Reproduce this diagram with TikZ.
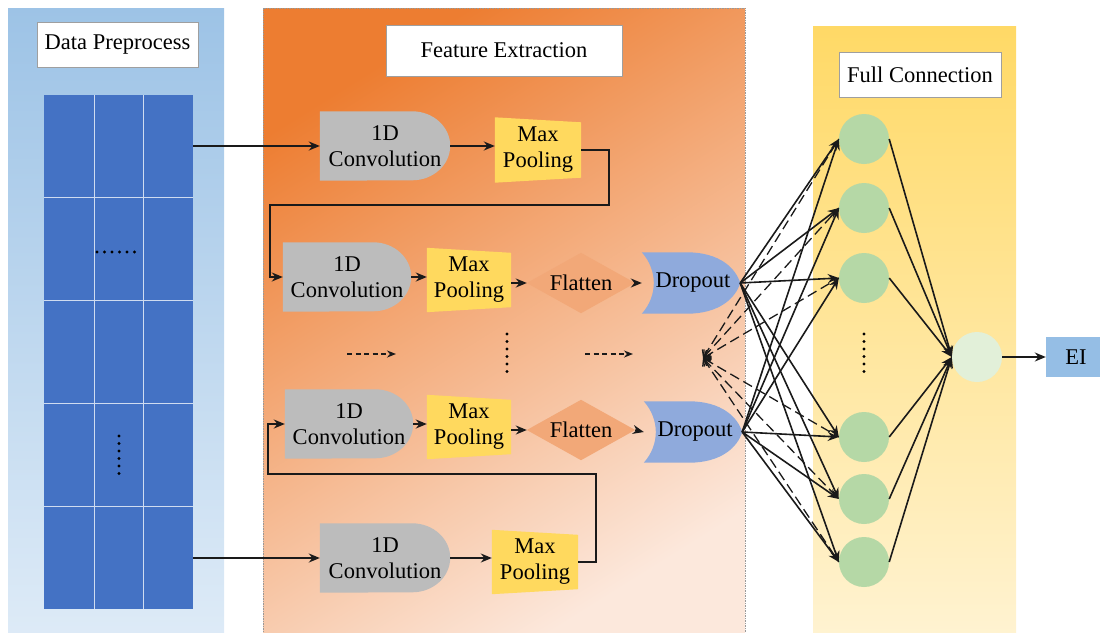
\documentclass[tikz,border=0pt]{standalone}
\usepackage{fontspec}
\setmainfont{Liberation Serif}
\usetikzlibrary{arrows.meta,calc}
\pgfdeclarelayer{panel}
\pgfdeclarelayer{shapes}
\pgfsetlayers{panel,shapes,main}
\definecolor{dpTop}{HTML}{9DC3E6}
\definecolor{dpBot}{HTML}{DEEBF7}
\definecolor{gridBlue}{HTML}{4472C4}
\definecolor{feTop}{HTML}{ED7D31}
\definecolor{feMid}{HTML}{F5B995}
\definecolor{feBot}{HTML}{FCE8DC}
\definecolor{fcTop}{HTML}{FFD966}
\definecolor{fcBot}{HTML}{FFF3D2}
\definecolor{convGray}{HTML}{BCBCBC}
\definecolor{poolYel}{HTML}{FFD95E}
\definecolor{flatOr}{HTML}{F2A878}
\definecolor{dropBlue}{HTML}{8FAADC}
\definecolor{neuGreen}{HTML}{B5D8A6}
\definecolor{outGreen}{HTML}{E2F0D9}
\definecolor{eiBlue}{HTML}{95BEE5}
\definecolor{lineBlk}{HTML}{1A1A1A}
\tikzset{
  x=1pt, y=-1pt,
  every node/.style={font=\fontsize{22.5}{26}\selectfont, text=black},
  blk/.style={inner sep=0pt, align=center},
  label box/.style={draw=gray!75, fill=white, inner sep=0pt, line width=0.8pt},
  arr/.style={draw=lineBlk, line width=1.6pt, -{Stealth[length=11pt,width=9pt]}},
  dasharr/.style={draw=lineBlk, line width=1.5pt, dash pattern=on 5pt off 3.5pt, -{Stealth[length=9pt,width=7pt]}},
  fcdash/.style={draw=lineBlk, line width=1.3pt, dash pattern=on 10pt off 5pt},
  neuron/.style={circle, fill=neuGreen, minimum size=50pt, inner sep=0pt},
  dotline/.style={draw=black, line width=3.4pt, dash pattern=on 0pt off 7.5pt, line cap=round},
}
\newcommand\convshape[1]{%
  \fill[convGray] (#1.north west) -- ([xshift=-38pt]#1.north east)
    arc[start angle=90, end angle=-90, x radius=38pt, y radius=34.5pt]
    -- (#1.south west) -- cycle;}
\newcommand\poolshape[1]{%
  \fill[poolYel] (#1.north west) -- ([yshift=-5pt]#1.north east)
    -- ([yshift=5pt]#1.south east) -- (#1.south west) -- cycle;}
\newcommand\flatshape[1]{%
  \fill[flatOr] (#1.north) -- (#1.east) -- (#1.south) -- (#1.west) -- cycle;}
\newcommand\dropshape[1]{%
  \fill[dropBlue] (#1.north west) -- ([xshift=45pt]#1.north west)
    .. controls ([xshift=78pt]#1.north west) and ([xshift=94pt,yshift=-16pt]#1.north west) .. (#1.east)
    .. controls ([xshift=94pt,yshift=16pt]#1.south west) and ([xshift=78pt]#1.south west) .. ([xshift=45pt]#1.south west)
    -- (#1.south west)
    .. controls ([xshift=16pt,yshift=18pt]#1.south west) and ([xshift=16pt,yshift=-18pt]#1.north west) .. cycle;}
\begin{document}
\begin{tikzpicture}
\useasboundingbox (0,0) rectangle (1100,632);

% ---------- panels ----------
\begin{pgfonlayer}{panel}
\shade[top color=dpTop, bottom color=dpBot] (8,8) rectangle (224,640);
\shade[top color=feTop, middle color=feMid, bottom color=feBot, shading angle=32] (263,8) rectangle (745,640);
\draw[gray!80, line width=0.6pt, dash pattern=on 1.5pt off 1pt] (263,8) rectangle (745,640);
\shade[top color=fcTop, bottom color=fcBot] (813,26) rectangle (1016,640);
% data grid
\fill[gridBlue] (44,95) rectangle (193,609);
\foreach \xx in {94,143} \draw[white!75!gridBlue, line width=0.8pt] (\xx,95) -- (\xx,609);
\foreach \yy in {197.8,300.6,403.4,506.2} \draw[white!75!gridBlue, line width=0.8pt] (44,\yy) -- (193,\yy);
\end{pgfonlayer}

% ---------- labels ----------
\node[label box, minimum width=161pt, minimum height=45pt] (lbData) at (117.5,44.5) {Data Preprocess};
\node[label box, minimum width=236pt, minimum height=51pt] (lbFeat) at (504,50.5) {Feature Extraction};
\node[label box, minimum width=162pt, minimum height=45pt] (lbFull) at (920,75) {Full Connection};

% ---------- data grid node ----------
\node[blk, minimum width=149pt, minimum height=514pt] (grid) at (118.5,352) {};
\draw[dotline] (97,252) -- (140,252);
\draw[dotline] (119,436) -- (119,478);

% ---------- feature extraction blocks ----------
\node[blk, minimum width=130pt, minimum height=69pt] (conv1) at (385,146) {1D\\Convolution};
\node[blk, minimum width=86pt, minimum height=65pt] (mp1) at (538,150) {Max\\Pooling};

\node[blk, minimum width=128pt, minimum height=69pt] (conv2) at (347,277) {1D\\Convolution};
\node[blk, minimum width=84pt, minimum height=64pt] (mp2) at (469,280) {Max\\Pooling};
\node[blk, minimum width=108pt, minimum height=60pt] (fl2) at (581,283) {Flatten};
\node[blk, minimum width=98pt, minimum height=61pt] (dr2) at (691,283) {\hspace*{4pt}Dropout};

\node[blk, minimum width=128pt, minimum height=69pt] (conv3) at (349,424) {1D\\Convolution};
\node[blk, minimum width=84pt, minimum height=64pt] (mp3) at (469,427) {Max\\Pooling};
\node[blk, minimum width=108pt, minimum height=60pt] (fl3) at (581,430) {Flatten};
\node[blk, minimum width=98pt, minimum height=61pt] (dr3) at (693,432) {\hspace*{4pt}Dropout};

\node[blk, minimum width=130pt, minimum height=69pt] (conv4) at (385,558) {1D\\Convolution};
\node[blk, minimum width=86pt, minimum height=64pt] (mp4) at (535,562) {Max\\Pooling};

\begin{pgfonlayer}{shapes}
\convshape{conv1}\convshape{conv2}\convshape{conv3}\convshape{conv4}
\poolshape{mp1}\poolshape{mp2}\poolshape{mp3}\poolshape{mp4}
\flatshape{fl2}\flatshape{fl3}
\dropshape{dr2}\dropshape{dr3}
\end{pgfonlayer}

% flow arrows
\draw[arr] (grid.east |- conv1.west) -- (conv1.west);
\draw[arr] (conv1.east) -- (mp1.west |- conv1.east);
\draw[arr] (mp1.east) -| (609,205) -- (270,205) |- (conv2.west);
\draw[arr] (conv2.east) -- (mp2.west |- conv2.east);
\draw[arr] (mp2.east |- fl2.west) -- (fl2.west);
\draw[arr] (fl2.east) -- (dr2.west);

\draw[arr] (grid.east |- conv4.west) -- (conv4.west);
\draw[arr] (conv4.east) -- (mp4.west |- conv4.east);
\draw[arr] (mp4.east) -| (596,474) -- (268,474) |- (conv3.west);
\draw[arr] (conv3.east) -- (mp3.west |- conv3.east);
\draw[arr] (mp3.east |- fl3.west) -- (fl3.west);
\draw[arr] (fl3.east) -- (dr3.west);

% ellipsis row
\coordinate (e1a) at (347,354); \coordinate (e1b) at (396,354);
\coordinate (e2a) at (585,354); \coordinate (e2b) at (633,354);
\draw[dasharr] (e1a) -- (e1b);
\draw[dasharr] (e2a) -- (e2b);
\draw[dotline] (507,334) -- (507,372);

% ---------- full connection ----------
\node[neuron] (n1) at (864,139) {};
\node[neuron] (n2) at (864,208) {};
\node[neuron] (n3) at (864,278) {};
\node[neuron] (n4) at (864,437) {};
\node[neuron] (n5) at (864,499) {};
\node[neuron] (n6) at (864,562) {};
\node[neuron, fill=outGreen] (out) at (977,357) {};
\draw[dotline] (864,334) -- (864,374);
\node[blk, fill=eiBlue, minimum width=60pt, minimum height=40pt] (ei) at (1076,357) {EI};

\coordinate (dd) at (703,358);
\foreach \n in {n1,n2,n3,n4,n5,n6}{
  \draw[fcdash, {Straight Barb[length=6pt,width=10pt]}-] (dd) -- (\n.west);
  \draw[arr] (dr2.east) -- (\n.west);
  \draw[arr] (dr3.east) -- (\n.west);
  \draw[arr] (\n.east) -- (out.west);
}
\draw[arr] (out.east) -- (ei.west);
\end{tikzpicture}
\end{document}
